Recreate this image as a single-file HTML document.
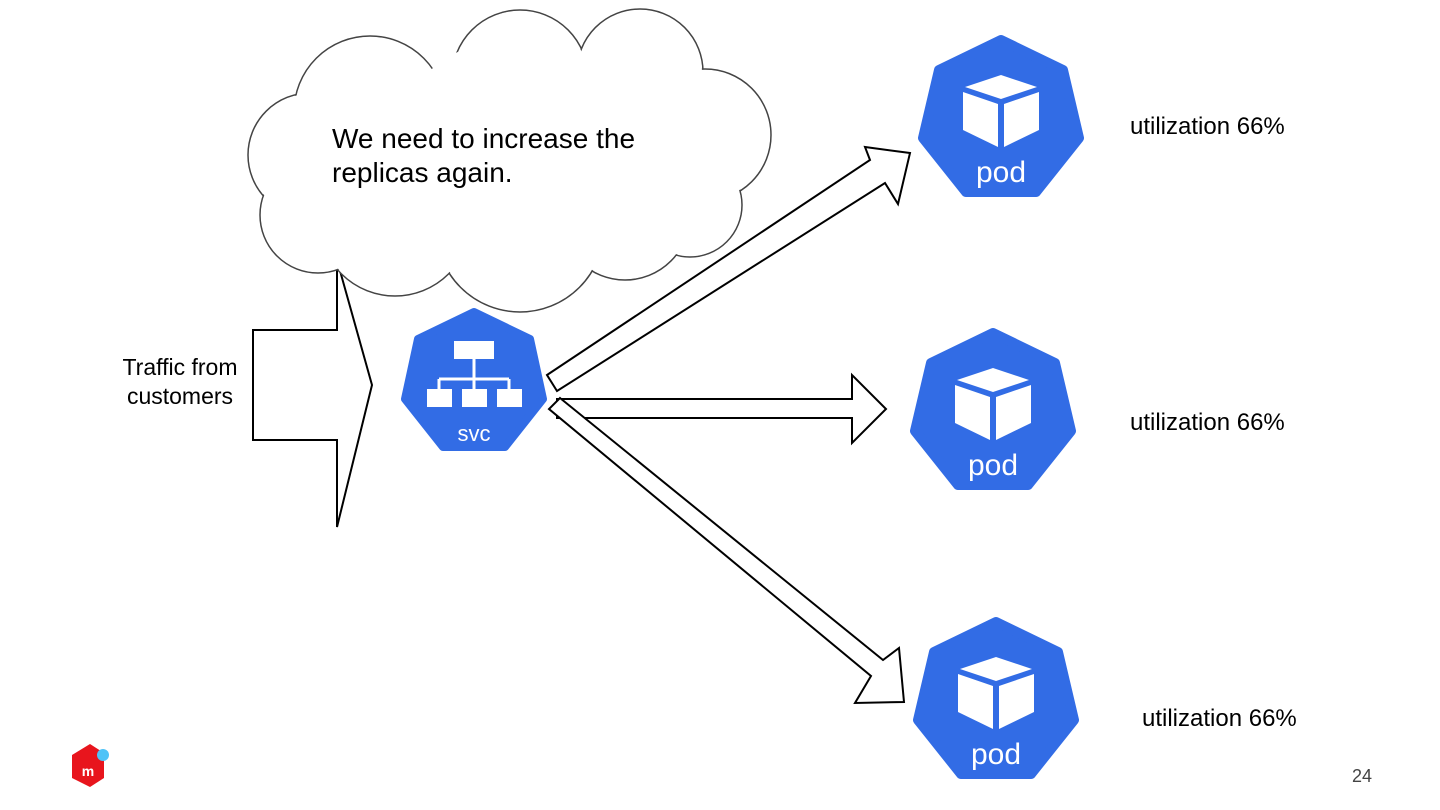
<!DOCTYPE html>
<html><head><meta charset="utf-8"><style>
html,body{margin:0;padding:0;background:#fff;}
svg{display:block;}
text{font-family:"Liberation Sans",sans-serif;}
</style></head><body>
<svg width="1440" height="810" viewBox="0 0 1440 810" xmlns="http://www.w3.org/2000/svg">
<!-- traffic arrow -->
<polygon points="253,330 337,330 337,260 372,385 337,527 337,440 253,440" fill="#fff" stroke="#000" stroke-width="2"/>
<!-- cloud -->
<g fill="#fff" stroke="#444" stroke-width="1.5">
<circle cx="310" cy="155" r="62"/><circle cx="370" cy="112" r="76"/><circle cx="520" cy="78" r="68"/>
<circle cx="640" cy="72" r="63"/><circle cx="705" cy="135" r="66"/><circle cx="690" cy="205" r="52"/>
<circle cx="625" cy="215" r="65"/><circle cx="520" cy="228" r="84"/><circle cx="395" cy="220" r="76"/>
<circle cx="318" cy="215" r="58"/>
</g>
<g fill="#fff">
<circle cx="310" cy="155" r="61"/><circle cx="370" cy="112" r="75"/><circle cx="520" cy="78" r="67"/>
<circle cx="640" cy="72" r="62"/><circle cx="705" cy="135" r="65"/><circle cx="690" cy="205" r="51"/>
<circle cx="625" cy="215" r="64"/><circle cx="520" cy="228" r="83"/><circle cx="395" cy="220" r="75"/>
<circle cx="318" cy="215" r="57"/><circle cx="510" cy="160" r="120"/><circle cx="630" cy="150" r="75"/>
<circle cx="400" cy="170" r="90"/>
</g>
<text x="332" y="148" font-size="28">We need to increase the</text>
<text x="332" y="182" font-size="28">replicas again.</text>
<text x="180" y="375" font-size="23" text-anchor="middle">Traffic from</text>
<text x="180" y="404" font-size="23" text-anchor="middle">customers</text>
<!-- arrows -->
<polygon points="547,375 870,160 865,147 910,153 898,204 885,183 557,391" fill="#fff" stroke="#000" stroke-width="2"/>
<polygon points="557,399 852,399 852,375 886,409 852,443 852,418 557,418" fill="#fff" stroke="#000" stroke-width="2"/>
<polygon points="560,398 883,660 899,648 904,702 855,703 871,676 549,409" fill="#fff" stroke="#000" stroke-width="2"/>
<!-- svc -->
<g transform="translate(474,383)">
<polygon points="0,-71 56,-44 69,16 31,64 -31,64 -69,16 -56,-44" fill="#326ce5" stroke="#326ce5" stroke-width="8" stroke-linejoin="round"/>
<rect x="-20" y="-42" width="40" height="18" fill="#fff"/>
<path d="M0,-24V10M-35,-4H35M-35,-4V10M35,-4V10" stroke="#fff" stroke-width="3" fill="none"/>
<rect x="-47" y="6" width="25" height="18" fill="#fff"/>
<rect x="-12" y="6" width="25" height="18" fill="#fff"/>
<rect x="23" y="6" width="25" height="18" fill="#fff"/>
<text x="0" y="58" font-size="22" fill="#fff" text-anchor="middle" font-family="DejaVu Sans">svc</text>
</g>
<!-- pods -->
<defs>
<g id="pod">
<polygon points="0,-80 62,-50 78,18 35,72 -35,72 -78,18 -62,-50" fill="#326ce5" stroke="#326ce5" stroke-width="10" stroke-linejoin="round"/>
<polygon points="0,-45 36,-33 0,-21 -36,-33" fill="#fff"/>
<polygon points="-38,-28 -3,-16 -3,27 -38,10" fill="#fff"/>
<polygon points="38,-28 3,-16 3,27 38,10" fill="#fff"/>
<text x="0" y="62" font-size="30" fill="#fff" text-anchor="middle">pod</text>
</g>
</defs>
<use href="#pod" transform="translate(1001,120)"/>
<use href="#pod" transform="translate(993,413)"/>
<use href="#pod" transform="translate(996,702)"/>
<text x="1130" y="134" font-size="24">utilization 66%</text>
<text x="1130" y="430" font-size="24">utilization 66%</text>
<text x="1142" y="726" font-size="24">utilization 66%</text>
<!-- logo -->
<polygon points="72,755 90,744 104,753 104,778 90,787 72,778" fill="#e8151d"/>
<circle cx="103" cy="755" r="6" fill="#4fc3f7"/>
<text x="88" y="776" font-size="14" fill="#fff" text-anchor="middle" font-weight="bold">m</text>
<text x="1352" y="782" font-size="18" fill="#444">24</text>
</svg>
</body></html>
